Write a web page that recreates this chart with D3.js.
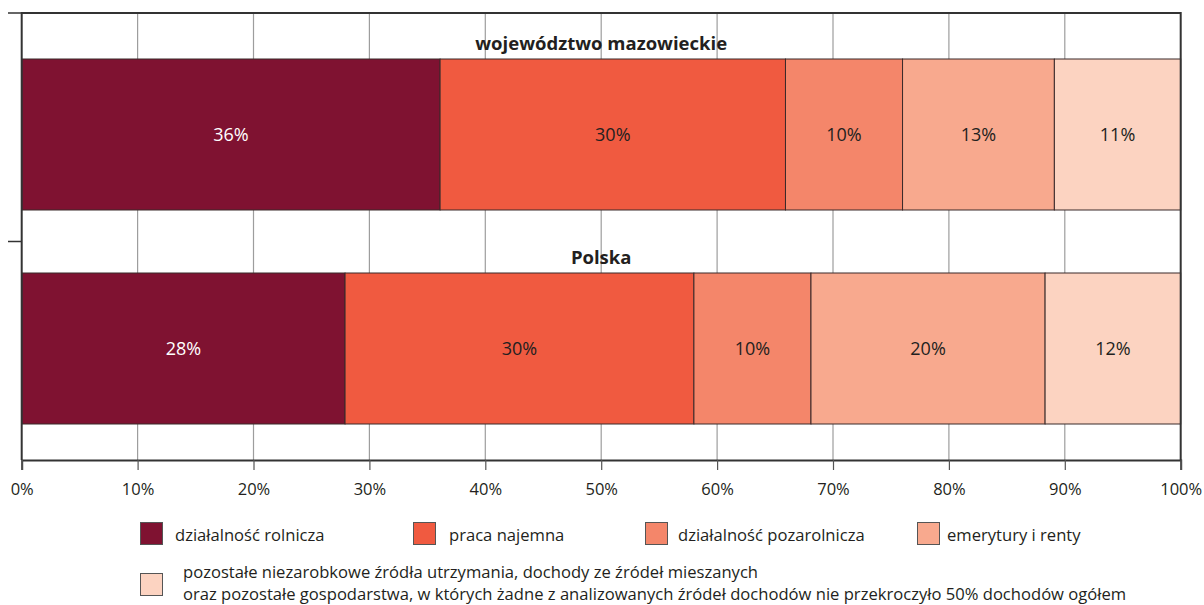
<!DOCTYPE html>
<html><head><meta charset="utf-8">
<script src="https://cdn.jsdelivr.net/npm/d3@7"></script>
<style>body{margin:0;background:#fff}svg{display:block;font-family:"Open Sans",sans-serif}</style>
</head><body><svg id="c" width="1204" height="605"></svg>
<script>
const categories = ["województwo mazowieckie", "Polska"];
const seriesNames = ["działalność rolnicza", "praca najemna", "działalność pozarolnicza", "emerytury i renty",
  "pozostałe niezarobkowe źródła utrzymania, dochody ze źródeł mieszanych|oraz pozostałe gospodarstwa, w których żadne z analizowanych źródeł dochodów nie przekroczyło 50% dochodów ogółem"];
const mazowieckie = [36.1, 29.8, 10.1, 13.1, 10.9];
const polska = [27.9, 30.1, 10.1, 20.2, 11.7];
const colors = ["#7f1231", "#f05a40", "#f4866a", "#f8a98e", "#fcd3c1"];
const labelColors = ["#ffffff", "#231f20", "#231f20", "#231f20", "#231f20"];
const xTicks = [0,10,20,30,40,50,60,70,80,90,100];

const svg = d3.select("#c");
const L = 21.7, R = 1180.7, T = 13, B = 460;
const x = d3.scaleLinear().domain([0,100]).range([L,R]);
const y = d3.scaleBand().domain(categories).range([59,424]).paddingInner(63/214).paddingOuter(0);
const values = [mazowieckie, polska];

// grid
svg.append("g").selectAll("line").data(xTicks.slice(1,-1)).join("line")
  .attr("x1", d=>x(d)).attr("x2", d=>x(d)).attr("y1", T).attr("y2", B)
  .attr("stroke", "#9d9d9d").attr("stroke-width", 1.2);

// bars
categories.forEach((c, ci) => {
  const vals = values[ci];
  let acc = 0;
  const segs = vals.map((v,i)=>{const s={i,v,x0:acc,x1:acc+v}; acc+=v; return s;});
  const g = svg.append("g");
  g.selectAll("rect").data(segs).join("rect")
    .attr("x", d=>x(d.x0)).attr("width", d=>x(d.x1)-x(d.x0))
    .attr("y", y(c)).attr("height", y.bandwidth())
    .attr("fill", d=>colors[d.i]).attr("stroke", "#3a2a2a").attr("stroke-width", 1);
  g.selectAll("text").data(segs).join("text")
    .attr("x", d=>x((d.x0+d.x1)/2)).attr("y", y(c)+y.bandwidth()/2+6.5)
    .attr("text-anchor","middle").attr("font-size", 18).attr("fill", d=>labelColors[d.i])
    .text(d=>Math.round(d.v)+"%");
  svg.append("text").attr("x", x(50)).attr("y", y(c)-9)
    .attr("text-anchor","middle").attr("font-size", 18.5).attr("font-weight","bold").attr("fill","#231f20")
    .text(c);
});

// frame
svg.append("path").attr("d", `M${L},${B} V${T} H${R} V${B}`).attr("fill","none").attr("stroke","#333").attr("stroke-width",2);

// left ticks
const step = y.step(), bw = y.bandwidth();
const leftTicks = [T, y(categories[0]) + bw + (step-bw)/2];
svg.append("g").selectAll("line").data(leftTicks).join("line")
  .attr("x1", 8).attr("x2", L).attr("y1", d=>d).attr("y2", d=>d).attr("stroke","#333").attr("stroke-width",1.5);

// x axis
const ax = svg.append("g").attr("transform", `translate(0,${B})`)
  .call(d3.axisBottom(x).tickValues(xTicks).tickSize(10).tickPadding(0).tickFormat(d=>d+"%"));
ax.select(".domain").attr("stroke","#333").attr("stroke-width",2);
ax.selectAll(".tick line").attr("stroke","#555").attr("stroke-width",1.2);
ax.selectAll(".tick text").attr("font-size",16.5).attr("fill","#231f20").attr("font-family","'Open Sans',sans-serif")
  .attr("dy", null).attr("y", 35);

// legend
const legPos = [[140,522],[413,522],[645,522],[917,522],[140,573]];
const textX = [175,449,678,947,183];
seriesNames.forEach((n,i)=>{
  const [lx,ly] = legPos[i];
  svg.append("rect").attr("x",lx+0.5).attr("y",ly+0.5).attr("width",22).attr("height",22)
    .attr("fill",colors[i]).attr("stroke","#555").attr("stroke-width",1);
  const lines = n.split("|");
  lines.forEach((t,k)=>{
    svg.append("text").attr("x",textX[i]).attr("y", i<4 ? ly+19 : ly+5+k*22)
      .attr("font-size",16.6).attr("fill","#231f20").text(t);
  });
});
</script></body></html>
